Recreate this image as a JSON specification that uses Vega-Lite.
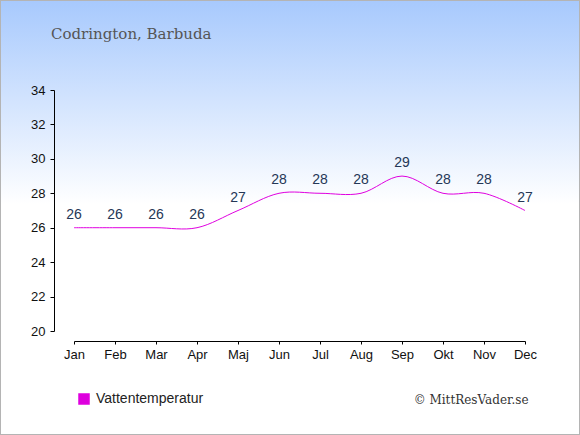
{
  "$schema": "https://vega.github.io/schema/vega-lite/v6.json",
  "width": 580,
  "height": 435,
  "padding": 0,
  "autosize": {"type": "none"},
  "background": "#ffffff",
  "title": {
    "text": "Codrington, Barbuda",
    "orient": "top",
    "anchor": "start",
    "frame": "group",
    "offset": -55,
    "dx": 51,
    "baseline": "alphabetic",
    "font": "DejaVu Serif",
    "fontSize": 15,
    "fontWeight": "normal",
    "color": "#555555",
    "zindex": 1
  },
  "config": {
    "view": {"stroke": null},
    "font": "Liberation Sans"
  },
  "data": {
    "values": [
      {"month": "Jan", "temp": 26},
      {"month": "Feb", "temp": 26},
      {"month": "Mar", "temp": 26},
      {"month": "Apr", "temp": 26},
      {"month": "Maj", "temp": 27},
      {"month": "Jun", "temp": 28},
      {"month": "Jul", "temp": 28},
      {"month": "Aug", "temp": 28},
      {"month": "Sep", "temp": 29},
      {"month": "Okt", "temp": 28},
      {"month": "Nov", "temp": 28},
      {"month": "Dec", "temp": 27}
    ]
  },
  "layer": [
    {
      "data": {"values": [{}]},
      "mark": {
        "type": "rect",
        "stroke": "#b4b4b4",
        "strokeWidth": 2,
        "fill": {
          "gradient": "linear",
          "x1": 0, "y1": 0, "x2": 0, "y2": 1,
          "stops": [
            {"offset": 0, "color": "#a7c9fd"},
            {"offset": 0.47, "color": "#ffffff"},
            {"offset": 1, "color": "#ffffff"}
          ]
        }
      },
      "encoding": {}
    },
    {
      "mark": {"type": "line", "interpolate": "cardinal", "strokeWidth": 1},
      "encoding": {
        "x": {
          "field": "month",
          "type": "ordinal",
          "sort": null,
          "scale": {"type": "point", "padding": 0, "range": [74, 525]},
          "axis": {
            "orient": "bottom",
            "offset": -94,
            "zindex": 1,
            "grid": false,
            "labelAngle": 0,
            "domainColor": "#000000",
            "tickColor": "#000000",
            "tickSize": 3,
            "labelColor": "#111111",
            "labelFontSize": 13,
            "labelPadding": 4,
            "title": "© MittResVader.se",
            "titleX": 528,
            "titleY": 62,
            "titleAlign": "right",
            "titleBaseline": "alphabetic",
            "titleFont": "DejaVu Serif",
            "titleFontSize": 12,
            "titleFontWeight": "normal",
            "titleColor": "#333333"
          }
        },
        "y": {
          "field": "temp",
          "type": "quantitative",
          "scale": {"domain": [20, 34], "range": [331, 90], "nice": false, "zero": false},
          "axis": {
            "orient": "left",
            "offset": -54,
            "zindex": 1,
            "grid": false,
            "values": [20, 22, 24, 26, 28, 30, 32, 34],
            "domainColor": "#000000",
            "tickColor": "#000000",
            "tickSize": 4,
            "labelColor": "#111111",
            "labelFontSize": 13,
            "labelPadding": 5,
            "title": null
          }
        },
        "color": {
          "datum": "Vattentemperatur",
          "type": "nominal",
          "scale": {"range": ["#e000e0"]},
          "legend": {
            "orient": "none",
            "legendX": 77,
            "legendY": 392,
            "title": null,
            "padding": 0,
            "zindex": 1,
            "symbolType": "square",
            "symbolSize": 100,
            "symbolFillColor": "#dd00dd",
            "symbolStrokeColor": "#dd00dd",
            "labelFontSize": 14,
            "labelColor": "#222222",
            "labelOffset": 5
          }
        }
      }
    },
    {
      "mark": {"type": "text", "dy": -9, "baseline": "alphabetic", "fontSize": 14, "color": "#253756"},
      "encoding": {
        "x": {"field": "month", "type": "ordinal", "sort": null},
        "y": {"field": "temp", "type": "quantitative"},
        "text": {"field": "temp", "type": "quantitative"}
      }
    }
  ]
}
